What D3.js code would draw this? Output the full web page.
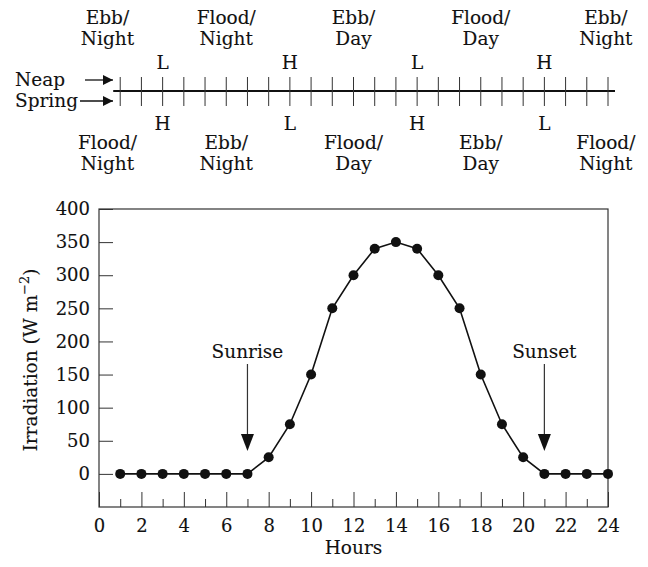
<!DOCTYPE html>
<html>
<head>
<meta charset="utf-8">
<script src="https://cdn.jsdelivr.net/npm/d3@7"></script>
<style>
  body { margin: 0; background: #fff; }
  text { font-family: "DejaVu Serif", serif; fill: #111; stroke: #111; stroke-width: 0.12px; }
</style>
</head>
<body>
<div id="chart"></div>
<script>
// Data
const hours = [1, 2, 3, 4, 5, 6, 7, 8, 9, 10, 11, 12, 13, 14, 15, 16, 17, 18, 19, 20, 21, 22, 23, 24];
const irradiation = [0, 0, 0, 0, 0, 0, 0, 25, 75, 150, 250, 300, 340, 350, 340, 300, 250, 150, 75, 25, 0, 0, 0, 0];
const yTicks = [0, 50, 100, 150, 200, 250, 300, 350, 400];
const xMajorTicks = [0, 2, 4, 6, 8, 10, 12, 14, 16, 18, 20, 22, 24];
const xMinorTicks = [1, 3, 5, 7, 9, 11, 13, 15, 17, 19, 21, 23];
const markers = [{ label: "Sunrise", hour: 7 }, { label: "Sunset", hour: 21 }];

// Tide timeline
const tideHours = [3, 9, 15, 21];
const neapTides = ["L", "H", "L", "H"];
const springTides = ["H", "L", "H", "L"];
const phaseHours = [0.4, 6, 12, 18, 23.9];
const neapPhases = ["Ebb/Night", "Flood/Night", "Ebb/Day", "Flood/Day", "Ebb/Night"];
const springPhases = ["Flood/Night", "Ebb/Night", "Flood/Day", "Ebb/Day", "Flood/Night"];

const W = 648, H = 567;
const labelSize = "18.5px";
const tickSize = "18px";

const svg = d3.select("#chart").append("svg")
    .attr("width", W)
    .attr("height", H);

const x = d3.scaleLinear().domain([0, 24]).range([99, 608]);
const y = d3.scaleLinear().domain([-50, 400]).range([507, 209]);

// Arrowhead
svg.append("defs").append("marker")
    .attr("id", "head")
    .attr("viewBox", "0 0 10 10")
    .attr("refX", 10).attr("refY", 5)
    .attr("markerUnits", "userSpaceOnUse")
    .attr("markerWidth", 13).attr("markerHeight", 10)
    .attr("orient", "auto")
    .append("path")
    .attr("d", "M0,0 L10,5 L0,10 Z")
    .attr("fill", "#111");

// ---- Timeline ----
const lineY = 91;
svg.append("line")
    .attr("x1", x(0.67)).attr("x2", x(24.33))
    .attr("y1", lineY).attr("y2", lineY)
    .attr("stroke", "#111").attr("stroke-width", 2);

svg.selectAll(".tl-tick")
    .data(hours)
    .enter().append("line")
    .attr("class", "tl-tick")
    .attr("x1", d => x(d)).attr("x2", d => x(d))
    .attr("y1", lineY - 14).attr("y2", lineY + 15)
    .attr("stroke", "#333").attr("stroke-width", 1);

svg.selectAll(".neap-tide")
    .data(neapTides)
    .enter().append("text")
    .attr("x", (d, i) => x(tideHours[i]))
    .attr("y", 69)
    .attr("text-anchor", "middle")
    .style("font-size", labelSize)
    .text(d => d);

svg.selectAll(".spring-tide")
    .data(springTides)
    .enter().append("text")
    .attr("x", (d, i) => x(tideHours[i]))
    .attr("y", 130)
    .attr("text-anchor", "middle")
    .style("font-size", labelSize)
    .text(d => d);

function phaseLabels(data, y1) {
    const g = svg.append("g");
    data.forEach((d, i) => {
        const parts = d.split("/");
        const t = g.append("text")
            .attr("text-anchor", "middle")
            .style("font-size", labelSize);
        t.append("tspan").attr("x", x(phaseHours[i])).attr("y", y1).text(parts[0] + "/");
        t.append("tspan").attr("x", x(phaseHours[i])).attr("y", y1 + 20.5).text(parts[1]);
    });
}
phaseLabels(neapPhases, 24);
phaseLabels(springPhases, 149);

svg.append("text").attr("x", 15).attr("y", 86)
    .style("font-size", labelSize).text("Neap");
svg.append("line")
    .attr("x1", 85).attr("x2", 113).attr("y1", 80).attr("y2", 80)
    .attr("stroke", "#111").attr("stroke-width", 1.3)
    .attr("marker-end", "url(#head)");
svg.append("text").attr("x", 15).attr("y", 107)
    .style("font-size", labelSize).text("Spring");
svg.append("line")
    .attr("x1", 80).attr("x2", 113).attr("y1", 101).attr("y2", 101)
    .attr("stroke", "#111").attr("stroke-width", 1.3)
    .attr("marker-end", "url(#head)");

// ---- Irradiation chart ----
svg.append("rect")
    .attr("x", x(0)).attr("y", y(400))
    .attr("width", x(24) - x(0)).attr("height", y(-50) - y(400))
    .attr("fill", "none").attr("stroke", "#333").attr("stroke-width", 1.2);

const yAxis = svg.append("g")
    .attr("transform", `translate(${x(0)},0)`)
    .call(d3.axisLeft(y).tickValues(yTicks).tickSize(-14).tickPadding(9));
yAxis.select(".domain").remove();
yAxis.selectAll("text").style("font-size", tickSize).style("fill", "#111");
yAxis.selectAll("line").attr("stroke", "#333");

const xAxis = svg.append("g")
    .attr("transform", `translate(0,${y(-50)})`)
    .call(d3.axisBottom(x).tickValues(xMajorTicks).tickSize(-15).tickPadding(12).tickFormat(d3.format("d")));
xAxis.select(".domain").remove();
xAxis.selectAll("text").style("font-size", tickSize).style("fill", "#111");
xAxis.selectAll("line").attr("stroke", "#333");

const xMinor = svg.append("g")
    .attr("transform", `translate(0,${y(-50)})`)
    .call(d3.axisBottom(x).tickValues(xMinorTicks).tickSize(-8).tickFormat(""));
xMinor.select(".domain").remove();
xMinor.selectAll("line").attr("stroke", "#333");

svg.append("text")
    .attr("x", (x(0) + x(24)) / 2)
    .attr("y", 554)
    .attr("text-anchor", "middle")
    .style("font-size", labelSize)
    .text("Hours");

const yLabel = svg.append("text")
    .attr("transform", `translate(37,${(y(400) + y(-50)) / 2 + 2}) rotate(-90)`)
    .attr("text-anchor", "middle")
    .style("font-size", labelSize);
yLabel.append("tspan").text("Irradiation (W m");
yLabel.append("tspan").attr("dy", -8).style("font-size", "13px").text("\u22122");
yLabel.append("tspan").attr("dy", 8).text(")");

// Sunrise / sunset arrows
markers.forEach(m => {
    svg.append("text")
        .attr("x", x(m.hour))
        .attr("y", 358)
        .attr("text-anchor", "middle")
        .style("font-size", labelSize)
        .text(m.label);
    svg.append("line")
        .attr("x1", x(m.hour)).attr("x2", x(m.hour))
        .attr("y1", 364).attr("y2", y(0) - 35)
        .attr("stroke", "#333").attr("stroke-width", 1.2);
    svg.append("path")
        .attr("d", `M${x(m.hour) - 6.5},${y(0) - 40} L${x(m.hour) + 6.5},${y(0) - 40} L${x(m.hour)},${y(0) - 23} Z`)
        .attr("fill", "#111");
});

// Line and points
const line = d3.line()
    .x((d, i) => x(hours[i]))
    .y(d => y(d));

svg.append("path")
    .datum(irradiation)
    .attr("d", line)
    .attr("fill", "none")
    .attr("stroke", "#111")
    .attr("stroke-width", 1.6);

svg.selectAll(".pt")
    .data(irradiation)
    .enter().append("circle")
    .attr("class", "pt")
    .attr("cx", (d, i) => x(hours[i]))
    .attr("cy", d => y(d))
    .attr("r", 5)
    .attr("fill", "#111");
</script>
</body>
</html>
